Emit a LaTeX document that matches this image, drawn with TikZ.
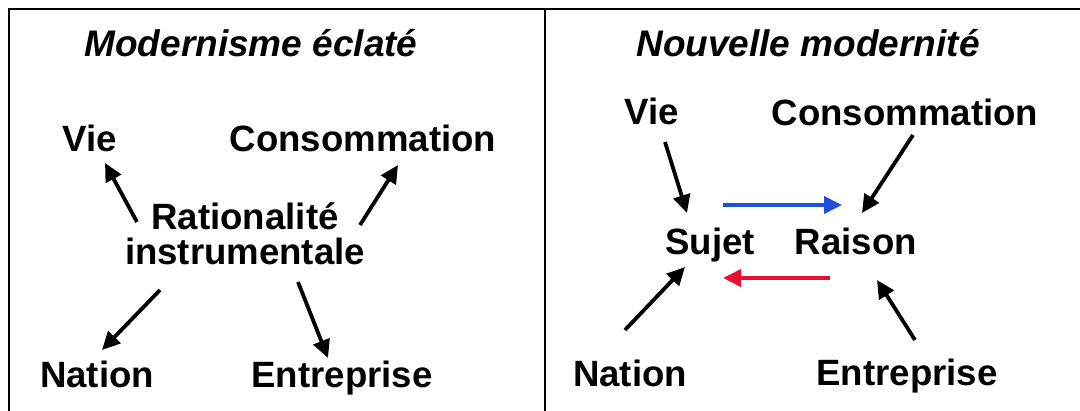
\documentclass[tikz,border=0pt]{standalone}
\usepackage{fontspec}
\setmainfont{Liberation Sans}
\usetikzlibrary{arrows.meta}
\definecolor{flowblue}{HTML}{1F4FE0}
\definecolor{flowred}{HTML}{E8102E}
\tikzset{
  frame/.style={line width=2.6pt, line cap=rect},
  lbl/.style={font=\fontsize{36.6}{35}\selectfont\bfseries, inner sep=0pt, anchor=base},
  ttl/.style={font=\fontsize{37}{35}\selectfont\bfseries\itshape, inner sep=0pt, anchor=base},
  arr/.style={line width=3.8pt, -{Triangle[length=18pt,width=17pt]}},
}
\begin{document}
\begin{tikzpicture}[x=1pt,y=-1pt]
\useasboundingbox (0,0) rectangle (1080,411);
% frame and divider
\draw[frame] (9,420) -- (9,9) -- (1090,9);
\draw[frame] (545,9) -- (545,420);

% left panel
\node[ttl] (ltitle) at (251,57) {Modernisme éclaté};
\node[lbl] (lvie) at (90,152) {Vie};
\node[lbl] (lcons) at (363,152) {Consommation};
\node[lbl, anchor=center, align=center] (rat) at (245,234) {Rationalité\\instrumentale};
\node[lbl] (lnat) at (97,388) {Nation};
\node[lbl] (lent) at (342,388) {Entreprise};

\draw[arr] ([shift={(-108,-12)}]rat.center) -- ([shift={(15,11)}]lvie.base);
\draw[arr] ([shift={(115,-9)}]rat.center) -- ([shift={(35,13)}]lcons.base);
\draw[arr] ([shift={(-85,56)}]rat.center) -- ([shift={(5,-38)}]lnat.base);
\draw[arr] ([shift={(53,48)}]rat.center) -- ([shift={(-14,-30)}]lent.base);

% right panel
\node[ttl] (rtitle) at (808,57) {Nouvelle modernité};
\node[lbl] (rvie) at (652,125) {Vie};
\node[lbl] (rcons) at (905,126) {Consommation};
\node[lbl] (suj) at (710,255) {Sujet};
\node[lbl] (rai) at (856,255) {Raison};
\node[lbl] (rnat) at (630,387) {Nation};
\node[lbl] (rent) at (907,386) {Entreprise};

\draw[arr] ([shift={(13,17)}]rvie.base) -- ([shift={(-23,-42)}]suj.base);
\draw[arr] ([shift={(8,9)}]rcons.base) -- ([shift={(6,-42)}]rai.base);
\draw[arr] ([shift={(-5,-57)}]rnat.base) -- ([shift={(-25,12)}]suj.base);
\draw[arr] ([shift={(8,-46)}]rent.base) -- ([shift={(21,25)}]rai.base);
\draw[arr, flowblue] ([shift={(13,-50)}]suj.base) -- ([shift={(-14,-50)}]rai.base);
\draw[arr, flowred] ([shift={(-26,23)}]rai.base) -- ([shift={(13,23)}]suj.base);
\end{tikzpicture}
\end{document}
